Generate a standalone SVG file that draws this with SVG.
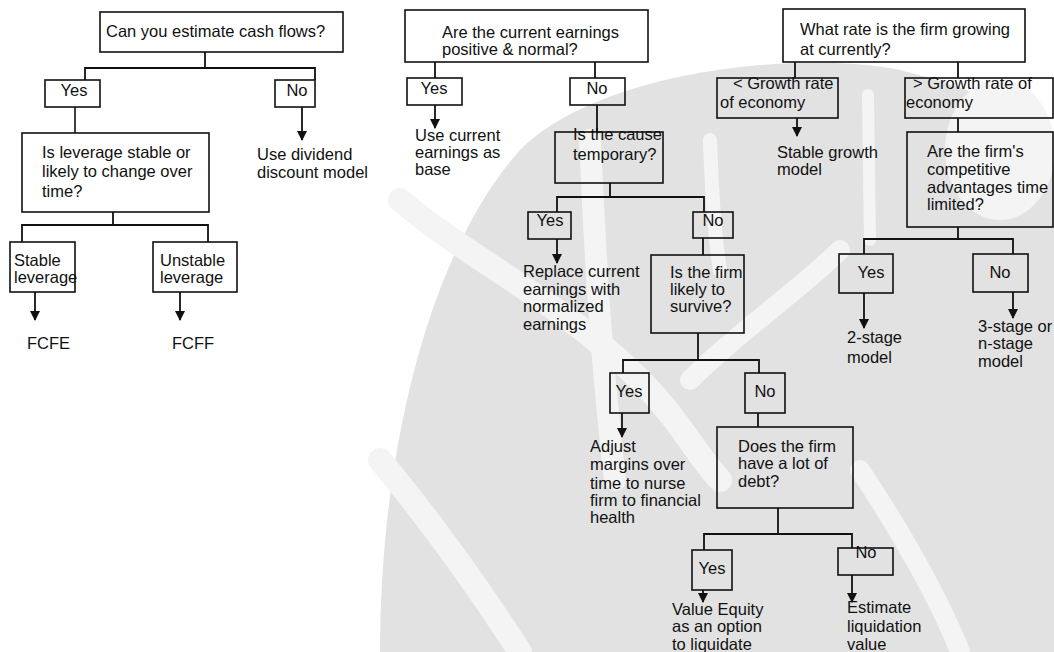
<svg xmlns="http://www.w3.org/2000/svg" width="1054" height="652" viewBox="0 0 1054 652">
<style>
.t{font-family:"Liberation Sans",Arial,sans-serif;font-size:16.5px;fill:#111}
.c{text-anchor:middle}
.b{fill:none;stroke:#111;stroke-width:1.6}
.k{fill:none;stroke:#111;stroke-width:1.8}
.w{fill:none;stroke:#f4f4f4;stroke-linecap:round}
</style>
<defs>
<marker id="ah" viewBox="0 0 10 10" refX="9" refY="5" markerWidth="10" markerHeight="10" markerUnits="userSpaceOnUse" orient="auto">
<path d="M0,0 L10,5 L0,10 Z" fill="#111"/>
</marker>
</defs>
<rect width="1054" height="652" fill="#ffffff"/>
<g id="watermark">
<path d="M380,652 C380,450 430,250 520,150 C600,70 800,50 900,70 C980,90 1054,120 1054,160 L1054,652 Z" fill="#e2e2e2"/>
<path class="w" stroke-width="24" d="M400,200 C470,260 560,300 640,380 C680,420 700,460 720,480"/>
<path class="w" stroke-width="22" d="M590,140 C595,250 600,350 615,480"/>
<path class="w" stroke-width="14" d="M710,140 C712,200 715,240 720,270"/>
<path class="w" stroke-width="12" d="M868,95 L870,240"/>
<path class="w" stroke-width="20" d="M840,250 C800,290 740,330 690,380"/>
<path class="w" stroke-width="20" d="M860,470 C900,530 940,600 960,652"/>
<path class="w" stroke-width="24" d="M380,460 C430,520 480,590 520,652"/>
<ellipse cx="1000" cy="150" rx="55" ry="70" fill="#f4f4f4"/>
</g>
<g id="connectors">
<path class="k" d="M205,52 V68 M85,80 V68 H315 V80"/>
<path class="b" d="M75,107 V133"/>
<path class="k" d="M302,107 V140" marker-end="url(#ah)"/>
<path class="k" d="M113,212 V225 M22,242 V225 H208 V242"/>
<path class="k" d="M35,292 V320" marker-end="url(#ah)"/>
<path class="k" d="M180,292 V320" marker-end="url(#ah)"/>
<path class="k" d="M435,62 V78 M595,62 V78"/>
<path class="k" d="M435,105 V128" marker-end="url(#ah)"/>
<path class="k" d="M597,105 V132"/>
<path class="k" d="M610,183 V197 M557,212 V197 H704 V212"/>
<path class="k" d="M557,239 V263" marker-end="url(#ah)"/>
<path class="k" d="M703,238 V255"/>
<path class="k" d="M698,333 V360 M623,373 V360 H759 V373"/>
<path class="k" d="M622,413 V437" marker-end="url(#ah)"/>
<path class="k" d="M758,413 V427"/>
<path class="k" d="M778,508 V534 M704,550 V534 H852 V548"/>
<path class="k" d="M703,590 V602" marker-end="url(#ah)"/>
<path class="k" d="M852,575 V602" marker-end="url(#ah)"/>
<path class="k" d="M795,62 V78 M958,62 V78"/>
<path class="k" d="M797,118 V136" marker-end="url(#ah)"/>
<path class="k" d="M958,118 V132"/>
<path class="k" d="M958,227 V239 M864,254 V239 H1013 V254"/>
<path class="k" d="M864,293 V328" marker-end="url(#ah)"/>
<path class="k" d="M1013,292 V318" marker-end="url(#ah)"/>
</g>
<g id="n-cashflows"><rect class="b" x="100" y="12" width="243" height="40"/><text class="t" x="106" y="37">Can you estimate cash flows?</text></g>
<g id="n-cf-yes"><rect class="b" x="45" y="80" width="55" height="27"/><text class="t c" x="74" y="96">Yes</text></g>
<g id="n-cf-no"><rect class="b" x="275" y="80" width="40" height="27"/><text class="t c" x="297" y="96">No</text></g>
<g id="n-leverage"><rect class="b" x="22" y="133" width="187" height="79"/><text class="t" x="42" y="158">Is leverage stable or</text><text class="t" x="42" y="177">likely to change over</text><text class="t" x="42" y="197">time?</text></g>
<g id="n-dividend"><text class="t" x="257" y="160">Use dividend</text><text class="t" x="257" y="178">discount model</text></g>
<g id="n-stable"><rect class="b" x="10" y="242" width="65" height="50"/><text class="t" x="14" y="266">Stable</text><text class="t" x="14" y="283">leverage</text></g>
<g id="n-unstable"><rect class="b" x="153" y="242" width="84" height="50"/><text class="t" x="160" y="266">Unstable</text><text class="t" x="160" y="283">leverage</text></g>
<g id="n-fcfe"><text class="t" x="27" y="349">FCFE</text></g>
<g id="n-fcff"><text class="t" x="172" y="349">FCFF</text></g>
<g id="n-earnings"><rect class="b" x="405" y="10" width="243" height="52"/><text class="t" x="442" y="38">Are the current earnings</text><text class="t" x="442" y="55">positive &amp; normal?</text></g>
<g id="n-earn-yes"><rect class="b" x="407" y="78" width="55" height="27"/><text class="t c" x="434" y="94">Yes</text></g>
<g id="n-earn-no"><rect class="b" x="570" y="78" width="55" height="27"/><text class="t c" x="597" y="94">No</text></g>
<g id="n-usecurrent"><text class="t" x="415" y="141">Use current</text><text class="t" x="415" y="158">earnings as</text><text class="t" x="415" y="175">base</text></g>
<g id="n-cause"><rect class="b" x="555" y="132" width="108" height="51"/><text class="t" x="573" y="140">Is the cause</text><text class="t" x="573" y="160">temporary?</text></g>
<g id="n-cause-yes"><rect class="b" x="528" y="212" width="43" height="27"/><text class="t c" x="550" y="226">Yes</text></g>
<g id="n-cause-no"><rect class="b" x="693" y="212" width="40" height="26"/><text class="t c" x="713" y="226">No</text></g>
<g id="n-replace"><text class="t" x="523" y="277">Replace current</text><text class="t" x="523" y="295">earnings with</text><text class="t" x="523" y="312">normalized</text><text class="t" x="523" y="330">earnings</text></g>
<g id="n-survive"><rect class="b" x="651" y="255" width="93" height="78"/><text class="t" x="670" y="278">Is the firm</text><text class="t" x="670" y="295">likely to</text><text class="t" x="670" y="312">survive?</text></g>
<g id="n-surv-yes"><rect class="b" x="610" y="373" width="39" height="40"/><text class="t c" x="629" y="397">Yes</text></g>
<g id="n-surv-no"><rect class="b" x="745" y="373" width="40" height="40"/><text class="t c" x="765" y="397">No</text></g>
<g id="n-adjust"><text class="t" x="590" y="452">Adjust</text><text class="t" x="590" y="470">margins over</text><text class="t" x="590" y="489">time to nurse</text><text class="t" x="590" y="506">firm to financial</text><text class="t" x="590" y="523">health</text></g>
<g id="n-debt"><rect class="b" x="717" y="427" width="136" height="81"/><text class="t" x="738" y="452">Does the firm</text><text class="t" x="738" y="469">have a lot of</text><text class="t" x="738" y="487">debt?</text></g>
<g id="n-debt-yes"><rect class="b" x="692" y="550" width="40" height="40"/><text class="t c" x="712" y="574">Yes</text></g>
<g id="n-debt-no"><rect class="b" x="838" y="548" width="55" height="27"/><text class="t c" x="866" y="558">No</text></g>
<g id="n-value"><text class="t" x="672" y="615">Value Equity</text><text class="t" x="672" y="632">as an option</text><text class="t" x="672" y="650">to liquidate</text></g>
<g id="n-liquidation"><text class="t" x="847" y="613">Estimate</text><text class="t" x="847" y="632">liquidation</text><text class="t" x="847" y="650">value</text></g>
<g id="n-growing"><rect class="b" x="783" y="9" width="242" height="53"/><text class="t" x="800" y="35">What rate is the firm growing</text><text class="t" x="800" y="55">at currently?</text></g>
<g id="n-lower"><rect class="b" x="717" y="78" width="121" height="40"/><text class="t" x="733" y="89">&lt; Growth rate</text><text class="t" x="720" y="108">of economy</text></g>
<g id="n-higher"><rect class="b" x="905" y="78" width="148" height="40"/><text class="t" x="913" y="89">&gt; Growth rate of</text><text class="t" x="906" y="108">economy</text></g>
<g id="n-stablegrowth"><text class="t" x="777" y="158">Stable growth</text><text class="t" x="777" y="175">model</text></g>
<g id="n-advantage"><rect class="b" x="907" y="132" width="146" height="95"/><text class="t" x="927" y="157">Are the firm's</text><text class="t" x="927" y="175">competitive</text><text class="t" x="927" y="193">advantages time</text><text class="t" x="927" y="210">limited?</text></g>
<g id="n-adv-yes"><rect class="b" x="839" y="254" width="54" height="39"/><text class="t c" x="871" y="278">Yes</text></g>
<g id="n-adv-no"><rect class="b" x="973" y="254" width="55" height="38"/><text class="t c" x="1000" y="278">No</text></g>
<g id="n-2stage"><text class="t" x="847" y="343">2-stage</text><text class="t" x="847" y="363">model</text></g>
<g id="n-3stage"><text class="t" x="978" y="332">3-stage or</text><text class="t" x="978" y="349">n-stage</text><text class="t" x="978" y="367">model</text></g>
</svg>
